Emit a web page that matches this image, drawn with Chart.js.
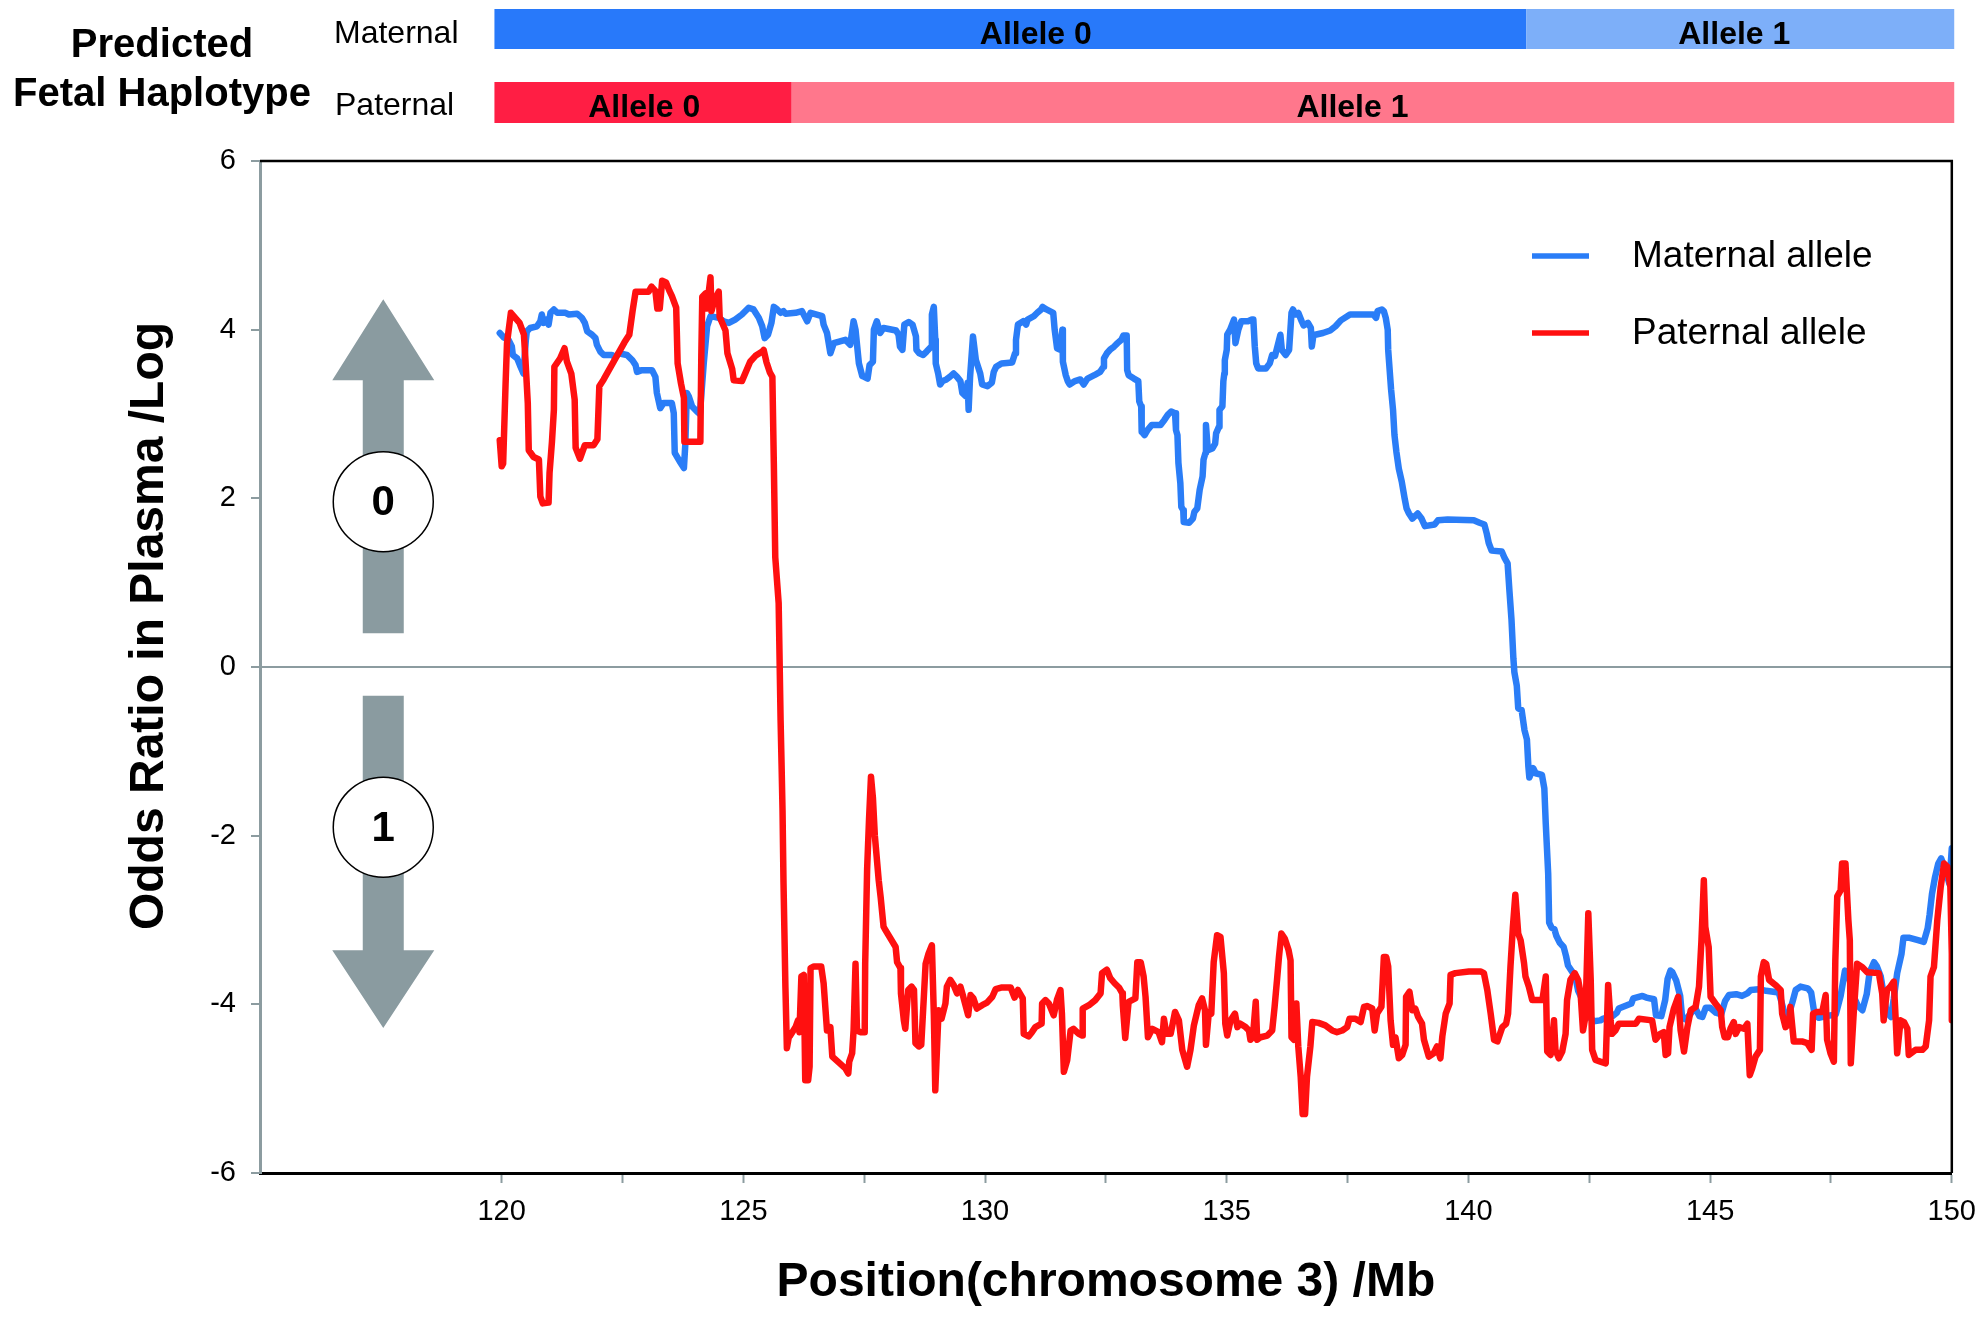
<!DOCTYPE html>
<html>
<head>
<meta charset="utf-8">
<script src="https://cdn.jsdelivr.net/npm/chart.js@4.4.1/dist/chart.umd.min.js"></script>
<style>
html,body{margin:0;padding:0;background:#ffffff;}
#wrap{width:1988px;height:1319px;position:relative;}
</style>
</head>
<body>
<div id="wrap"><canvas id="c"></canvas></div>
<script>
// ---------------- DATA ----------------
const seriesNames = ['Maternal allele', 'Paternal allele'];
const xAxisTitle = 'Position(chromosome 3) /Mb';
const yAxisTitle = 'Odds Ratio in Plasma /Log';
const titleLines = ['Predicted', 'Fetal Haplotype'];
const haplotypeRows = ['Maternal', 'Paternal'];
const maternalBlockEdges = [119.85, 141.2, 150.05];
const maternalBlockLabels = ['Allele 0', 'Allele 1'];
const paternalBlockEdges = [119.85, 126.0, 150.05];
const paternalBlockLabels = ['Allele 0', 'Allele 1'];
const arrowLabels = ['0', '1'];
const yTickValues = [-6, -4, -2, 0, 2, 4, 6];
const xLabelStep = 5;

// [position (Mb), log odds ratio]
const maternalTrace = [[119.96,3.96],[120.04,3.91],[120.14,3.88],[120.21,3.80],[120.23,3.70],[120.32,3.66],[120.39,3.56],[120.45,3.48],[120.50,3.88],[120.52,3.98],[120.59,4.02],[120.73,4.04],[120.80,4.10],[120.83,4.18],[120.87,4.08],[120.94,4.12],[120.97,4.06],[121.01,4.20],[121.08,4.24],[121.15,4.20],[121.32,4.20],[121.39,4.18],[121.56,4.19],[121.66,4.14],[121.72,4.08],[121.77,3.98],[121.87,3.94],[121.94,3.90],[121.97,3.82],[122.04,3.74],[122.11,3.70],[122.28,3.70],[122.35,3.67],[122.42,3.72],[122.59,3.70],[122.70,3.64],[122.77,3.58],[122.80,3.50],[122.90,3.52],[123.11,3.52],[123.18,3.44],[123.21,3.25],[123.28,3.07],[123.35,3.13],[123.52,3.13],[123.56,3.01],[123.58,2.54],[123.68,2.44],[123.77,2.36],[123.80,2.65],[123.83,3.25],[123.87,3.21],[123.94,3.09],[124.04,3.03],[124.10,3.00],[124.18,3.60],[124.25,4.04],[124.32,4.16],[124.49,4.14],[124.59,4.10],[124.70,4.08],[124.83,4.12],[124.97,4.18],[125.11,4.26],[125.21,4.24],[125.32,4.14],[125.39,4.04],[125.44,3.90],[125.51,3.94],[125.58,4.08],[125.63,4.27],[125.70,4.24],[125.77,4.20],[125.83,4.22],[125.87,4.19],[126.08,4.20],[126.21,4.22],[126.32,4.10],[126.39,4.20],[126.63,4.16],[126.66,4.06],[126.73,3.96],[126.80,3.72],[126.87,3.84],[127.11,3.88],[127.21,3.82],[127.28,4.10],[127.32,4.00],[127.39,3.60],[127.46,3.45],[127.50,3.44],[127.57,3.42],[127.61,3.58],[127.68,3.62],[127.70,4.00],[127.76,4.10],[127.83,3.96],[127.90,4.02],[128.16,3.99],[128.21,3.94],[128.24,3.80],[128.29,3.76],[128.33,4.06],[128.42,4.09],[128.50,4.06],[128.57,3.92],[128.58,3.76],[128.64,3.72],[128.72,3.70],[128.79,3.74],[128.89,3.80],[128.90,4.18],[128.94,4.27],[128.97,3.88],[128.98,3.60],[129.03,3.48],[129.07,3.35],[129.12,3.39],[129.20,3.41],[129.27,3.44],[129.35,3.48],[129.42,3.44],[129.49,3.39],[129.53,3.25],[129.60,3.21],[129.64,3.37],[129.66,3.05],[129.69,3.44],[129.75,3.92],[129.81,3.64],[129.90,3.48],[129.94,3.35],[130.05,3.33],[130.14,3.37],[130.18,3.50],[130.23,3.56],[130.34,3.60],[130.56,3.61],[130.62,3.72],[130.64,3.88],[130.68,4.06],[130.79,4.10],[130.85,4.06],[130.88,4.12],[131.01,4.16],[131.08,4.20],[131.16,4.24],[131.19,4.27],[131.27,4.24],[131.41,4.20],[131.44,4.00],[131.49,3.78],[131.56,3.76],[131.60,4.00],[131.61,3.62],[131.67,3.46],[131.71,3.39],[131.75,3.35],[131.86,3.39],[131.97,3.41],[132.04,3.35],[132.12,3.42],[132.26,3.46],[132.38,3.50],[132.45,3.56],[132.46,3.66],[132.52,3.72],[132.60,3.77],[132.67,3.80],[132.74,3.84],[132.82,3.88],[132.86,3.93],[132.93,3.93],[132.94,3.52],[132.97,3.46],[133.08,3.42],[133.17,3.39],[133.19,3.15],[133.23,3.09],[133.24,2.79],[133.30,2.75],[133.36,2.81],[133.45,2.87],[133.63,2.87],[133.71,2.93],[133.78,2.99],[133.85,3.03],[133.93,3.01],[133.95,2.81],[133.98,2.75],[134.00,2.42],[134.04,2.18],[134.06,1.90],[134.10,1.86],[134.11,1.72],[134.22,1.71],[134.30,1.76],[134.33,1.84],[134.39,1.88],[134.44,2.10],[134.50,2.26],[134.52,2.46],[134.56,2.54],[134.57,2.87],[134.61,2.57],[134.70,2.59],[134.76,2.65],[134.78,2.77],[134.84,2.85],[134.85,3.05],[134.91,3.09],[134.93,3.39],[134.95,3.48],[134.96,3.64],[135.00,3.76],[135.01,3.94],[135.07,4.00],[135.15,4.12],[135.18,3.84],[135.24,4.00],[135.30,4.10],[135.44,4.10],[135.52,4.12],[135.55,4.12],[135.58,3.80],[135.61,3.60],[135.65,3.54],[135.81,3.54],[135.89,3.60],[135.94,3.70],[136.00,3.69],[136.03,3.76],[136.11,3.94],[136.14,3.76],[136.22,3.70],[136.29,3.76],[136.34,4.20],[136.37,4.24],[136.42,4.18],[136.48,4.20],[136.55,4.10],[136.59,4.05],[136.68,4.08],[136.74,4.02],[136.76,3.80],[136.79,3.92],[136.83,3.94],[136.99,3.96],[137.14,3.99],[137.25,4.04],[137.36,4.11],[137.55,4.18],[138.03,4.18],[138.09,4.14],[138.12,4.22],[138.21,4.24],[138.25,4.22],[138.29,4.14],[138.33,4.00],[138.34,3.76],[138.40,3.29],[138.44,3.05],[138.47,2.75],[138.51,2.55],[138.56,2.35],[138.62,2.20],[138.68,2.00],[138.72,1.88],[138.77,1.82],[138.84,1.76],[138.95,1.82],[139.03,1.76],[139.10,1.67],[139.30,1.69],[139.37,1.74],[139.57,1.75],[140.11,1.74],[140.23,1.71],[140.33,1.69],[140.38,1.58],[140.42,1.47],[140.48,1.38],[140.69,1.37],[140.75,1.29],[140.81,1.23],[140.85,0.89],[140.89,0.57],[140.93,0.10],[140.95,-0.06],[141.00,-0.22],[141.03,-0.49],[141.10,-0.51],[141.16,-0.75],[141.21,-0.86],[141.24,-1.18],[141.26,-1.31],[141.34,-1.20],[141.39,-1.26],[141.52,-1.28],[141.57,-1.44],[141.60,-1.86],[141.65,-2.45],[141.67,-3.03],[141.72,-3.09],[141.78,-3.11],[141.82,-3.19],[141.89,-3.27],[141.97,-3.32],[142.02,-3.43],[142.06,-3.54],[142.13,-3.60],[142.21,-3.67],[142.27,-3.84],[142.36,-3.95],[142.44,-4.11],[142.52,-4.16],[142.59,-4.20],[142.73,-4.19],[142.79,-4.17],[142.98,-4.14],[143.07,-4.10],[143.11,-4.05],[143.37,-3.99],[143.41,-3.93],[143.60,-3.90],[143.68,-3.92],[143.84,-3.94],[143.88,-4.13],[143.99,-4.14],[144.07,-3.95],[144.12,-3.70],[144.18,-3.60],[144.22,-3.62],[144.30,-3.72],[144.38,-3.90],[144.42,-4.15],[144.49,-4.18],[144.61,-4.10],[144.69,-4.04],[144.78,-4.14],[144.84,-4.15],[144.91,-4.04],[145.00,-4.04],[145.12,-4.10],[145.23,-4.12],[145.31,-3.96],[145.39,-3.89],[145.54,-3.88],[145.66,-3.90],[145.77,-3.87],[145.84,-3.83],[146.01,-3.82],[146.16,-3.84],[146.42,-3.86],[146.47,-3.96],[146.56,-4.15],[146.63,-4.12],[146.71,-3.96],[146.77,-3.83],[146.87,-3.79],[147.02,-3.81],[147.09,-3.86],[147.16,-4.12],[147.25,-4.16],[147.40,-4.14],[147.60,-4.12],[147.70,-3.90],[147.79,-3.60],[147.86,-3.62],[147.94,-3.87],[148.06,-4.02],[148.15,-4.07],[148.24,-3.88],[148.30,-3.62],[148.39,-3.50],[148.45,-3.55],[148.53,-3.67],[148.65,-4.09],[148.74,-4.15],[148.80,-3.93],[148.87,-3.63],[148.96,-3.40],[149.00,-3.21],[149.11,-3.21],[149.30,-3.24],[149.42,-3.26],[149.50,-3.10],[149.54,-2.94],[149.59,-2.69],[149.65,-2.50],[149.72,-2.33],[149.78,-2.27],[149.87,-2.41],[149.95,-2.57],[150.00,-2.15]];

const paternalTrace = [[119.96,2.69],[120.00,2.38],[120.03,2.41],[120.08,3.35],[120.11,3.84],[120.19,4.20],[120.37,4.08],[120.46,3.94],[120.49,3.66],[120.54,3.13],[120.56,2.57],[120.66,2.49],[120.77,2.46],[120.80,2.02],[120.85,1.94],[120.97,1.95],[120.99,2.30],[121.04,2.67],[121.08,3.05],[121.09,3.56],[121.21,3.66],[121.30,3.78],[121.35,3.62],[121.44,3.48],[121.51,3.17],[121.53,2.60],[121.62,2.47],[121.72,2.63],[121.90,2.63],[121.98,2.70],[122.02,3.33],[122.11,3.41],[122.54,3.85],[122.64,3.94],[122.71,4.23],[122.77,4.45],[123.04,4.45],[123.10,4.51],[123.18,4.46],[123.22,4.25],[123.27,4.25],[123.32,4.58],[123.40,4.56],[123.47,4.46],[123.52,4.40],[123.61,4.26],[123.64,3.60],[123.71,3.36],[123.77,3.19],[123.78,2.67],[124.11,2.67],[124.13,3.70],[124.15,4.39],[124.22,4.43],[124.25,4.25],[124.28,4.43],[124.32,4.62],[124.34,4.22],[124.40,4.35],[124.49,4.45],[124.51,4.15],[124.63,3.99],[124.67,3.72],[124.77,3.53],[124.80,3.40],[124.97,3.39],[125.14,3.62],[125.25,3.69],[125.39,3.74],[125.42,3.76],[125.48,3.61],[125.55,3.49],[125.60,3.44],[125.63,2.42],[125.66,1.30],[125.73,0.76],[125.77,-0.63],[125.79,-1.15],[125.81,-1.70],[125.83,-2.55],[125.87,-3.80],[125.90,-4.52],[125.94,-4.39],[125.97,-4.37],[126.08,-4.27],[126.13,-4.19],[126.16,-4.33],[126.20,-3.67],[126.25,-3.65],[126.28,-4.90],[126.34,-4.90],[126.37,-4.74],[126.39,-3.57],[126.46,-3.55],[126.61,-3.55],[126.66,-3.75],[126.70,-4.07],[126.73,-4.31],[126.80,-4.27],[126.84,-4.62],[127.11,-4.76],[127.17,-4.82],[127.19,-4.68],[127.25,-4.58],[127.28,-4.31],[127.32,-3.52],[127.35,-4.31],[127.42,-4.33],[127.51,-4.33],[127.52,-3.52],[127.56,-2.40],[127.60,-1.80],[127.64,-1.30],[127.68,-1.55],[127.72,-2.00],[127.80,-2.53],[127.84,-2.73],[127.90,-3.08],[127.94,-3.12],[128.15,-3.32],[128.18,-3.50],[128.25,-3.57],[128.26,-3.87],[128.32,-4.19],[128.35,-4.29],[128.41,-3.83],[128.48,-3.79],[128.53,-3.83],[128.56,-4.46],[128.63,-4.50],[128.68,-4.48],[128.73,-3.95],[128.77,-3.52],[128.83,-3.40],[128.90,-3.30],[128.94,-4.11],[128.97,-5.02],[129.03,-4.19],[129.04,-4.07],[129.10,-4.17],[129.18,-3.99],[129.21,-3.79],[129.28,-3.71],[129.35,-3.77],[129.42,-3.87],[129.49,-3.79],[129.54,-3.89],[129.65,-4.13],[129.70,-3.89],[129.76,-3.93],[129.83,-4.05],[129.94,-4.01],[130.04,-3.98],[130.15,-3.91],[130.22,-3.82],[130.35,-3.80],[130.53,-3.80],[130.61,-3.92],[130.68,-3.83],[130.78,-3.93],[130.80,-4.35],[130.90,-4.38],[130.97,-4.33],[131.04,-4.27],[131.17,-4.23],[131.18,-3.99],[131.25,-3.95],[131.32,-3.99],[131.42,-4.13],[131.49,-3.94],[131.56,-3.83],[131.59,-4.11],[131.63,-4.80],[131.70,-4.66],[131.77,-4.31],[131.83,-4.29],[131.94,-4.35],[132.01,-4.37],[132.02,-4.05],[132.15,-4.01],[132.28,-3.95],[132.39,-3.87],[132.42,-3.63],[132.52,-3.59],[132.59,-3.69],[132.68,-3.75],[132.77,-3.80],[132.84,-3.87],[132.85,-4.01],[132.90,-4.40],[132.97,-3.97],[133.11,-3.93],[133.15,-3.50],[133.22,-3.50],[133.28,-3.67],[133.32,-3.91],[133.37,-4.39],[133.46,-4.29],[133.59,-4.33],[133.66,-4.45],[133.70,-4.17],[133.75,-4.35],[133.84,-4.35],[133.93,-4.09],[134.01,-4.19],[134.08,-4.54],[134.18,-4.74],[134.25,-4.54],[134.32,-4.25],[134.42,-4.01],[134.49,-3.93],[134.55,-4.07],[134.57,-4.48],[134.63,-4.09],[134.68,-4.11],[134.73,-3.50],[134.80,-3.18],[134.87,-3.20],[134.94,-3.63],[134.97,-4.23],[135.01,-4.37],[135.08,-4.19],[135.17,-4.11],[135.22,-4.27],[135.28,-4.23],[135.39,-4.27],[135.46,-4.31],[135.49,-4.42],[135.54,-4.39],[135.60,-3.97],[135.63,-4.42],[135.70,-4.39],[135.84,-4.37],[135.94,-4.31],[135.99,-4.03],[136.04,-3.71],[136.08,-3.44],[136.13,-3.16],[136.20,-3.22],[136.28,-3.36],[136.32,-3.48],[136.34,-4.39],[136.39,-4.42],[136.44,-3.99],[136.48,-4.50],[136.53,-4.86],[136.57,-5.30],[136.62,-5.30],[136.66,-4.86],[136.73,-4.50],[136.77,-4.21],[136.90,-4.22],[137.04,-4.25],[137.18,-4.31],[137.28,-4.33],[137.39,-4.31],[137.49,-4.27],[137.54,-4.17],[137.66,-4.17],[137.77,-4.21],[137.84,-4.03],[137.90,-4.02],[138.01,-4.05],[138.06,-4.31],[138.11,-4.11],[138.20,-4.03],[138.25,-3.44],[138.30,-3.44],[138.34,-3.55],[138.39,-4.19],[138.44,-4.48],[138.49,-4.39],[138.56,-4.64],[138.63,-4.60],[138.70,-4.48],[138.71,-3.91],[138.78,-3.85],[138.84,-4.07],[138.90,-4.05],[138.96,-4.15],[139.04,-4.23],[139.08,-4.42],[139.18,-4.62],[139.28,-4.58],[139.35,-4.50],[139.42,-4.64],[139.46,-4.38],[139.53,-4.11],[139.61,-3.99],[139.63,-3.65],[139.73,-3.63],[140.01,-3.61],[140.25,-3.61],[140.32,-3.63],[140.39,-3.83],[140.46,-4.11],[140.53,-4.42],[140.60,-4.44],[140.70,-4.27],[140.78,-4.23],[140.82,-4.11],[140.87,-3.55],[140.92,-3.08],[140.97,-2.70],[141.03,-3.16],[141.08,-3.24],[141.15,-3.51],[141.18,-3.67],[141.25,-3.79],[141.32,-3.95],[141.53,-3.95],[141.60,-3.67],[141.63,-4.56],[141.70,-4.60],[141.77,-4.19],[141.80,-4.54],[141.87,-4.64],[141.94,-4.56],[142.01,-4.35],[142.04,-3.95],[142.11,-3.71],[142.20,-3.63],[142.27,-3.71],[142.32,-3.87],[142.37,-4.31],[142.42,-4.15],[142.48,-2.92],[142.53,-3.71],[142.56,-4.54],[142.63,-4.66],[142.73,-4.68],[142.84,-4.70],[142.89,-3.77],[142.94,-4.19],[142.97,-4.35],[143.04,-4.31],[143.11,-4.23],[143.46,-4.23],[143.53,-4.17],[143.80,-4.19],[143.87,-4.42],[143.97,-4.35],[144.04,-4.33],[144.08,-4.60],[144.13,-4.58],[144.16,-4.27],[144.25,-4.05],[144.34,-3.91],[144.39,-4.31],[144.46,-4.56],[144.53,-4.27],[144.60,-4.07],[144.70,-4.03],[144.77,-3.79],[144.82,-3.25],[144.87,-2.53],[144.90,-3.08],[144.97,-3.32],[145.01,-3.91],[145.11,-3.99],[145.22,-4.07],[145.25,-4.27],[145.30,-4.39],[145.37,-4.39],[145.42,-4.29],[145.49,-4.21],[145.53,-4.35],[145.60,-4.27],[145.70,-4.29],[145.77,-4.23],[145.82,-4.84],[145.87,-4.76],[145.94,-4.62],[146.03,-4.54],[146.05,-3.67],[146.11,-3.50],[146.16,-3.52],[146.22,-3.71],[146.35,-3.77],[146.46,-3.83],[146.49,-4.11],[146.56,-4.27],[146.63,-4.23],[146.66,-4.03],[146.73,-4.44],[146.90,-4.44],[147.01,-4.46],[147.10,-4.54],[147.13,-4.11],[147.21,-4.09],[147.32,-4.09],[147.39,-3.89],[147.42,-4.42],[147.49,-4.58],[147.56,-4.68],[147.59,-3.48],[147.63,-2.72],[147.70,-2.65],[147.73,-2.33],[147.80,-2.33],[147.86,-3.00],[147.89,-3.24],[147.91,-4.70],[147.97,-4.11],[148.04,-3.52],[148.15,-3.56],[148.25,-3.62],[148.49,-3.63],[148.56,-3.87],[148.59,-4.19],[148.66,-3.83],[148.73,-3.79],[148.80,-3.73],[148.84,-4.19],[148.87,-4.58],[148.94,-4.19],[149.01,-4.21],[149.08,-4.29],[149.11,-4.60],[149.25,-4.54],[149.39,-4.54],[149.46,-4.50],[149.53,-4.19],[149.56,-3.67],[149.63,-3.56],[149.70,-3.00],[149.77,-2.61],[149.84,-2.33],[149.91,-2.37],[149.97,-2.61],[150.00,-3.40],[150.00,-4.19]];

// ---------------- STYLE / DECORATION ----------------
const FONT = '"Liberation Sans", Arial, Helvetica, sans-serif';
const BLUE = '#2a7df7', RED = '#ff1010';
const MAT_COLORS = ['#2879fa', '#7dafF9'];
const PAT_COLORS = ['#ff1e44', '#ff778c'];
const AXIS_GREY = '#8c9ca0';
const ARROW_GREY = '#8a9ba0';

// where each block label sits (Mb), and arrow anchors (data space)
const blockLabelAt = { maternal: [131.05, 145.5], paternal: [122.95, 137.6] };
const arrowCfg = {
  x: 117.55,
  up:   { tip: 4.36, base: 3.40, end: 0.40, circle: 1.96 },
  down: { tip: -4.28, base: -3.36, end: -0.34, circle: -1.90 }
};

function drawArrow(ctx, cx, yTip, yBase, yEnd, headHalf, shaftHalf) {
  ctx.beginPath();
  ctx.moveTo(cx, yTip);
  ctx.lineTo(cx + headHalf, yBase);
  ctx.lineTo(cx + shaftHalf, yBase);
  ctx.lineTo(cx + shaftHalf, yEnd);
  ctx.lineTo(cx - shaftHalf, yEnd);
  ctx.lineTo(cx - shaftHalf, yBase);
  ctx.lineTo(cx - headHalf, yBase);
  ctx.closePath();
  ctx.fill();
}

function drawBlocks(ctx, xs, edges, labels, labelAt, colors, top, h) {
  for (let i = 0; i < labels.length; i++) {
    const x0 = xs.getPixelForValue(edges[i]);
    const x1 = xs.getPixelForValue(edges[i + 1]);
    ctx.fillStyle = colors[i];
    ctx.fillRect(x0, top, x1 - x0, h);
  }
  for (let i = 0; i < labels.length; i++) {
    ctx.fillStyle = '#000';
    ctx.font = 'bold 32px ' + FONT;
    ctx.textAlign = 'center';
    ctx.textBaseline = 'alphabetic';
    ctx.fillText(labels[i], xs.getPixelForValue(labelAt[i]), top + 35);
  }
}

const decor = {
  id: 'decor',
  afterDatasetsDraw(chart) {
    const { ctx, chartArea: a, scales: { x, y } } = chart;
    ctx.save();
    // frame (top + right)
    ctx.strokeStyle = '#000';
    ctx.lineWidth = 2.5;
    ctx.beginPath();
    ctx.moveTo(a.left, a.top);
    ctx.lineTo(a.right, a.top);
    ctx.lineTo(a.right, a.bottom);
    ctx.stroke();

    // arrows
    const cx = x.getPixelForValue(arrowCfg.x);
    ctx.fillStyle = ARROW_GREY;
    [arrowCfg.up, arrowCfg.down].forEach(d => {
      drawArrow(ctx, cx, y.getPixelForValue(d.tip), y.getPixelForValue(d.base),
                y.getPixelForValue(d.end), 51, 20.5);
    });
    [arrowCfg.up, arrowCfg.down].forEach((d, i) => {
      const cy = y.getPixelForValue(d.circle);
      ctx.beginPath();
      ctx.arc(cx, cy, 50, 0, Math.PI * 2);
      ctx.fillStyle = '#fff';
      ctx.fill();
      ctx.lineWidth = 1.5;
      ctx.strokeStyle = '#000';
      ctx.stroke();
      ctx.fillStyle = '#000';
      ctx.font = 'bold 42px ' + FONT;
      ctx.textAlign = 'center';
      ctx.textBaseline = 'middle';
      ctx.fillText(arrowLabels[i], cx, cy + 2);
    });

    // legend
    chart.data.datasets.forEach((ds, i) => {
      const ly = 256 + i * 77;
      ctx.strokeStyle = ds.borderColor;
      ctx.lineWidth = 5.5;
      ctx.lineCap = 'butt';
      ctx.beginPath();
      ctx.moveTo(1532, ly);
      ctx.lineTo(1589, ly);
      ctx.stroke();
      ctx.fillStyle = '#000';
      ctx.font = '37px ' + FONT;
      ctx.textAlign = 'left';
      ctx.textBaseline = 'middle';
      ctx.fillText(ds.label, 1632, ly + 1);
    });
    ctx.restore();
  },
  afterDraw(chart) {
    const { ctx, scales: { x } } = chart;
    ctx.save();
    drawBlocks(ctx, x, maternalBlockEdges, maternalBlockLabels, blockLabelAt.maternal, MAT_COLORS, 9, 40);
    drawBlocks(ctx, x, paternalBlockEdges, paternalBlockLabels, blockLabelAt.paternal, PAT_COLORS, 82, 41);
    ctx.fillStyle = '#000';
    ctx.textAlign = 'left';
    ctx.textBaseline = 'alphabetic';
    ctx.font = '32px ' + FONT;
    ctx.fillText(haplotypeRows[0], 334, 43);
    ctx.fillText(haplotypeRows[1], 335, 115);
    ctx.textAlign = 'center';
    ctx.font = 'bold 40px ' + FONT;
    ctx.fillText(titleLines[0], 162, 57);
    ctx.fillText(titleLines[1], 162, 106);
    // y axis title
    ctx.translate(150, 626);
    ctx.rotate(-Math.PI / 2);
    ctx.font = 'bold 48px ' + FONT;
    ctx.textAlign = 'center';
    ctx.textBaseline = 'middle';
    ctx.fillText(yAxisTitle, 0, 0);
    ctx.restore();
  }
};

const chart = new Chart(document.getElementById('c'), {
  type: 'line',
  data: {
    datasets: [
      {
        label: seriesNames[0],
        data: maternalTrace.map(p => ({ x: p[0], y: p[1] })),
        borderColor: BLUE, borderWidth: 6.5, pointRadius: 0, tension: 0,
        borderJoinStyle: 'round', borderCapStyle: 'round', fill: false, order: 1
      },
      {
        label: seriesNames[1],
        data: paternalTrace.map(p => ({ x: p[0], y: p[1] })),
        borderColor: RED, borderWidth: 6.5, pointRadius: 0, tension: 0,
        borderJoinStyle: 'round', borderCapStyle: 'round', fill: false, order: 0
      }
    ]
  },
  options: {
    responsive: true,
    maintainAspectRatio: false,
    devicePixelRatio: 1,
    animation: false,
    layout: { padding: { left: 118, right: 35, top: 161, bottom: 0 } },
    plugins: { legend: { display: false }, tooltip: { enabled: false } },
    scales: {
      x: {
        type: 'linear',
        min: 115, max: 150,
        afterFit: s => { s.height = 146; },
        ticks: {
          stepSize: 2.5, autoSkip: false, maxRotation: 0, padding: 12,
          color: '#000', font: { family: FONT, size: 29 },
          callback: v => (v >= 120 && v % xLabelStep === 0) ? String(v) : ''
        },
        grid: {
          display: true, drawOnChartArea: false, drawTicks: true, tickLength: 10, tickWidth: 2,
          tickColor: c => (c.tick && c.tick.value < 120) ? 'rgba(0,0,0,0)' : AXIS_GREY
        },
        border: { display: true, color: '#000', width: 3 },
        title: {
          display: true, text: xAxisTitle, color: '#000',
          font: { family: FONT, size: 48, weight: 'bold' },
          padding: { top: 0, bottom: 7 }
        }
      },
      y: {
        type: 'linear',
        min: -6, max: 6,
        afterFit: s => { s.width = 142; },
        afterBuildTicks: s => { s.ticks = yTickValues.map(v => ({ value: v })); },
        ticks: {
          padding: 15, color: '#000', font: { family: FONT, size: 29 }
        },
        grid: {
          display: true, drawOnChartArea: true, drawTicks: true, tickLength: 9, lineWidth: 2,
          color: c => (c.tick && c.tick.value === 0) ? AXIS_GREY : 'rgba(0,0,0,0)',
          tickColor: AXIS_GREY, tickWidth: 2
        },
        border: { display: true, color: AXIS_GREY, width: 3 },
        title: { display: false, text: yAxisTitle }
      }
    }
  },
  plugins: [decor]
});
</script>
</body>
</html>
